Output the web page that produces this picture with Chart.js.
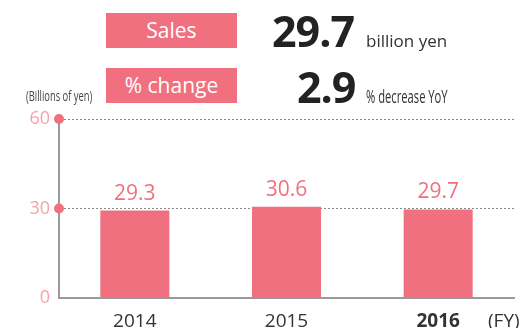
<!DOCTYPE html>
<html>
<head>
<meta charset="utf-8">
<script src="https://cdn.jsdelivr.net/npm/chart.js@4.4.1/dist/chart.umd.min.js"></script>
<style>
  html, body { margin: 0; padding: 0; background: #fff; }
  #wrap { position: relative; width: 519px; height: 328px; overflow: hidden; font-family: "Open Sans", sans-serif; }
  #chart { position: absolute; left: 0; top: 0; }
  .box { position: absolute; left: 106px; width: 131px; height: 35px; background: #f07080; color: #fff;
         font-size: 21px; line-height: 35px; text-align: center; }
  .big { position: absolute; font-weight: 700; font-size: 43px; color: #222; line-height: 1; letter-spacing: -1px; }
  .unit { position: absolute; color: #333; white-space: nowrap; transform-origin: left bottom; }
</style>
</head>
<body>
<div id="wrap">
  <canvas id="chart" width="519" height="328"></canvas>
  <div class="box" style="top:13px">Sales</div>
  <div class="box" style="top:68px">% change</div>
  <div class="big" id="salesVal" style="left:272px; top:9px"></div>
  <div class="unit" style="left:366px; top:29px; font-size:17px; transform:scaleX(1.0)">billion yen</div>
  <div class="big" id="changeVal" style="left:297px; top:65px"></div>
  <div class="unit" style="left:366px; top:83px; font-size:19px; transform:scaleX(0.59)">% decrease YoY</div>
  <div class="unit" style="left:26px; top:86px; font-size:14px; color:#444; transform:scaleX(0.67)">(Billions of yen)</div>
</div>
<script>
let years = ['2014', '2015', '2016'];
let sales = [29.3, 30.6, 29.7];
let yTicks = [0, 30, 60];
let latestSales = 29.7;
let pctChange = 2.9;

let pink = '#f07080';

document.getElementById('salesVal').textContent = latestSales.toFixed(1);
document.getElementById('changeVal').textContent = pctChange.toFixed(1);

// pink dots on the y axis at 30 and 60, value labels over bars, (FY) caption
let extras = {
    id: 'extras',
    afterDraw(chart) {
        let ctx = chart.ctx;
        let y = chart.scales.y;
        ctx.save();
        ctx.fillStyle = pink;
        yTicks.forEach(v => {
            if (v === 0) return;
            ctx.beginPath();
            ctx.arc(y.right, y.getPixelForValue(v), 5, 0, Math.PI * 2);
            ctx.fill();
        });
        ctx.font = '21px "Open Sans"';
        ctx.textAlign = 'center';
        ctx.textBaseline = 'alphabetic';
        chart.getDatasetMeta(0).data.forEach((bar, i) => {
            ctx.fillText(sales[i].toFixed(1), bar.x, bar.y - 11);
        });
        ctx.fillStyle = '#333';
        ctx.font = '19px "Open Sans"';
        ctx.textAlign = 'left';
        ctx.fillText('(FY)', 488, 327);
        ctx.restore();
    }
};

let chart = new Chart(document.getElementById('chart'), {
    type: 'bar',
    data: {
        labels: years,
        datasets: [{
            data: sales,
            backgroundColor: pink,
            borderWidth: 0,
            barPercentage: 1,
            categoryPercentage: 0.455
        }]
    },
    options: {
        responsive: false,
        animation: false,
        layout: { padding: { top: 119, right: 5, bottom: 0, left: 0 } },
        plugins: { legend: { display: false }, tooltip: { enabled: false } },
        scales: {
            x: {
                afterFit: axis => { axis.height = 30; },
                grid: { display: false },
                border: { color: '#9a9a9a', width: 2 },
                ticks: {
                    padding: 4,
                    color: '#333',
                    font: ctx => ({ family: 'Open Sans', size: 19, weight: ctx.index === 2 ? 'bold' : 'normal' })
                }
            },
            y: {
                min: 0,
                max: 60,
                afterBuildTicks: axis => { axis.ticks = yTicks.map(v => ({ value: v })); },
                afterFit: axis => { axis.width = 59; },
                grid: {
                    drawTicks: false,
                    color: ctx => ctx.tick && ctx.tick.value === 0 ? 'rgba(0,0,0,0)' : '#888',
                    lineWidth: 1
                },
                border: { color: '#9a9a9a', width: 2, dash: [2, 2] },
                ticks: {
                    padding: 9,
                    color: '#f6a3ad',
                    font: { family: 'Open Sans', size: 18 }
                }
            }
        }
    },
    plugins: [extras]
});
</script>
</body>
</html>
